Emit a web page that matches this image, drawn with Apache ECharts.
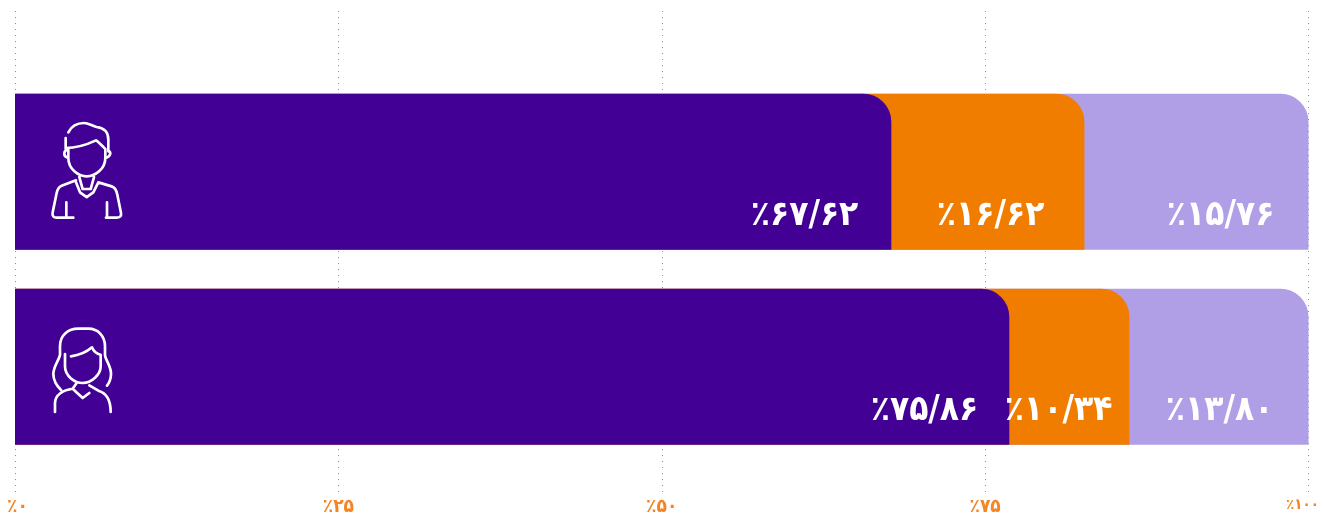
<!DOCTYPE html>
<html><head><meta charset="utf-8">
<script src="https://cdn.jsdelivr.net/npm/echarts@6/dist/echarts.min.js"></script>
<style>html,body{margin:0;padding:0;background:#fff}#c{width:1324px;height:515px}</style>
</head><body><div id="c"></div>
<script>
const categories = ['مردان', 'زنان'];
const tickLabels = ['٪۰', '٪۲۵', '٪۵۰', '٪۷۵', '٪۱۰۰'];
const seriesNames = ['بخش اول', 'بخش دوم', 'بخش سوم'];
const firstValues = [67.75, 76.87];
const secondValues = [14.93, 9.29];
const thirdValues = [17.32, 13.84];
const firstLabels = ['٪۶۷/۶۲', '٪۷۵/۸۶'];
const secondLabels = ['٪۱۶/۶۲', '٪۱۰/۳۴'];
const thirdLabels = ['٪۱۵/۷۶', '٪۱۳/۸۰'];

const FONT = '"DejaVu Sans Condensed", "DejaVu Sans", sans-serif';
const COLORS = ['#430095', '#f17d00', '#b09fe6'];
const insets = [[38, 36], [45, 22], [39, 40]];
const values = [firstValues, secondValues, thirdValues];
const labels = [firstLabels, secondLabels, thirdLabels];

function cumulative(seg, cat) {
  let s = 0;
  for (let i = 0; i <= seg; i++) s += values[i][cat];
  return s;
}
function makeSeries(seg) {
  return {
    type: 'bar', name: seriesNames[seg], xAxisIndex: 1, yAxisIndex: 1,
    barWidth: 156, barGap: '-100%', clip: false, silent: true,
    itemStyle: { color: COLORS[seg], borderRadius: [0, 28, 0, 0] },
    data: categories.map((c, i) => ({
      value: cumulative(seg, i),
      label: {
        show: true, position: 'right', formatter: labels[seg][i],
        offset: [-insets[seg][i], 44], align: 'right',
        color: '#fff', fontFamily: FONT, fontWeight: 'bold', fontSize: 35
      }
    }))
  };
}
const manPath = 'M205 128C215 108 235 100 252 100C265 100 275 108 290 112C315 115 325 130 325 150L325 185M197 145L197 178M197 175C230 175 260 165 288 152C298 158 310 172 316 178M204 180C190 182 188 200 204 204M325 183C335 188 332 200 316 206M205 180L205 205C205 238 235 260 260 260C285 260 316 238 316 205L316 178M228 278L240 308L260 322L280 308L295 278M238 262L248 298L272 298L282 262M228 272L185 288C175 292 172 300 170 310L158 368C156 378 160 384 170 384L220 384M295 278L335 290C345 293 350 305 352 315L363 370C365 380 358 384 350 384L318 384M199 338L199 384M321 338L321 384';
const womanPath = 'M180 210L180 185C180 150 205 132 235 132L265 132C295 132 315 155 315 185L315 210C315 225 335 245 333 270C332 285 328 295 321 303M180 210C178 225 160 245 160 268C160 290 172 305 183 316M195 208L195 245C195 275 225 295 248 295C275 295 302 270 302 245L302 210C290 208 280 198 276 188C260 202 235 212 213 215M230 295L218 312L248 340L268 325M165 382L165 355C165 330 190 316 218 312M268 302L295 318C320 325 332 345 332 382';
const icons = [manPath, womanPath];
const tickColor = '#f58524';

const chart = echarts.init(document.getElementById('c'), null, { renderer: 'canvas' });
chart.setOption({
  animation: false,
  backgroundColor: '#fff',
  grid: [
    { left: 15, width: 1293.5, top: 11, bottom: 23, outerBoundsMode: 'none' },
    { left: 15, width: 1293.5, top: 74.2, height: 390, outerBoundsMode: 'none' }
  ],
  xAxis: [
    { gridIndex: 0, type: 'value', min: 0, max: 100, interval: 25,
      axisLine: { show: false }, axisTick: { show: false },
      splitLine: { show: true, lineStyle: { color: '#8f8f8f', width: 1, type: [1, 5] } },
      axisLabel: { color: tickColor, fontFamily: FONT, fontWeight: 'bold', fontSize: 19, margin: 6,
        formatter: v => v === 0 ? '{first|' + tickLabels[0] + '}' : v === 100 ? '{last|' + tickLabels[4] + '}' : tickLabels[v / 25],
        rich: {
          first: { color: tickColor, fontFamily: FONT, fontWeight: 'bold', fontSize: 19, padding: [0, 0, 0, 5] },
          last: { color: tickColor, fontFamily: FONT, fontWeight: 'bold', fontSize: 15, padding: [0, 12, 0, 0] }
        },
        hideOverlap: false } },
    { gridIndex: 1, type: 'value', min: 0, max: 100, show: false }
  ],
  yAxis: [
    { gridIndex: 0, type: 'value', show: false, min: 0, max: 1 },
    { gridIndex: 1, type: 'category', inverse: true, data: categories, show: false }
  ],
  series: [makeSeries(2), makeSeries(1), makeSeries(0), {
    type: 'custom', name: 'icons', xAxisIndex: 1, yAxisIndex: 1, silent: true, clip: false, z: 5,
    encode: { x: 0, y: 1 },
    data: categories.map((c, i) => [0, i]),
    renderItem(params, api) {
      const p = api.coord([api.value(0), api.value(1)]);
      return {
        type: 'path', x: p[0] - 15, y: p[1] - 82, scaleX: 1 / 3, scaleY: 1 / 3,
        shape: { pathData: icons[api.value(1)] },
        style: { fill: 'none', stroke: '#fff', lineWidth: 8, lineCap: 'round', lineJoin: 'round' }
      };
    }
  }]
});
</script></body></html>
